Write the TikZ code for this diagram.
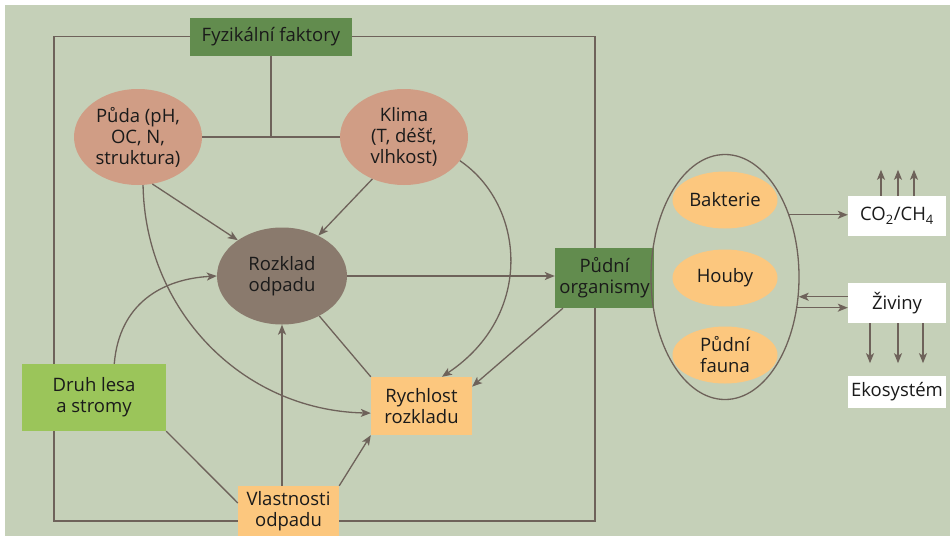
\documentclass[tikz,border=0pt]{standalone}
\usepackage{fontspec}
\setmainfont{Open Sans}
\usetikzlibrary{arrows.meta,shapes.geometric}
\usepackage{xcolor}
\definecolor{PanelGreen}{RGB}{197,208,184}
\definecolor{MossGreen}{RGB}{98,140,78}
\definecolor{LeafGreen}{RGB}{155,197,90}
\definecolor{SoftOrange}{RGB}{252,199,126}
\definecolor{Salmon}{RGB}{208,157,133}
\definecolor{LitterBrown}{RGB}{138,122,109}
\definecolor{LineBrown}{RGB}{110,98,90}
\definecolor{InkBlack}{RGB}{26,26,26}
\tikzset{
  factor/.style={rectangle, fill=MossGreen, inner sep=0pt, align=center},
  condition/.style={ellipse, fill=Salmon, inner sep=0pt, align=center,
    minimum width=128, minimum height=96},
  litter/.style={ellipse, fill=LitterBrown, inner sep=0pt, align=center,
    minimum width=130, minimum height=97},
  forest/.style={rectangle, fill=LeafGreen, inner sep=0pt, align=center,
    minimum width=144, minimum height=67},
  property/.style={rectangle, fill=SoftOrange, inner sep=0pt, align=center,
    minimum width=101},
  organism/.style={ellipse, fill=SoftOrange, inner sep=0pt, align=center,
    minimum width=105, minimum height=57},
  output/.style={rectangle, fill=white, inner sep=0pt, align=center,
    minimum width=98},
  link/.style={line width=1.3pt, LineBrown},
  arrow/.style={-{Stealth[length=10pt,width=8pt,inset=2.5pt]}, line width=1.3pt, LineBrown}
}
\begin{document}
\begin{tikzpicture}[x=1pt,y=-1pt,
  every node/.style={font=\fontsize{18.5}{21}\selectfont, text=InkBlack}]
  \useasboundingbox (0,0) rectangle (950,536);
  \fill[white] (0,0) rectangle (950,536);
  \fill[PanelGreen] (5,5) rectangle (950,536);

  % factors
  \node[factor,minimum width=162,minimum height=38] (fyz) at (271,36.5) {Fyzikální faktory};
  \node[condition] (puda) at (138,137) {Půda (pH,\\OC, N,\\struktura)};
  \node[condition] (klima) at (404,137) {Klima\\(T, déšť,\\vlhkost)};
  \node[litter] (rozklad) at (282,276) {Rozklad\\odpadu};
  \node[forest] (druh) at (94,397.5) {Druh lesa\\a stromy};
  \node[property,minimum height=58] (rychlost) at (421.5,406) {Rychlost\\rozkladu};
  \node[property,minimum height=50] (vlast) at (288.5,511) {Vlastnosti\\odpadu};
  \node[factor,minimum width=99,minimum height=60] (pudni) at (604.5,278) {Půdní\\organismy};

  % soil biota
  \node[ellipse,draw=LineBrown,line width=1.3pt,minimum width=148,minimum height=245] (biota) at (725,277) {};
  \node[organism] (bakt) at (725,200) {Bakterie};
  \node[organism] (houby) at (725,278) {Houby};
  \node[organism] (fauna) at (725,355) {Půdní\\fauna};

  \node[output,minimum height=40] (co2) at (897,216) {CO\textsubscript{2}/CH\textsubscript{4}};
  \node[output,minimum height=40] (ziviny) at (897,303) {Živiny};
  \node[output,minimum height=32] (eko) at (897,392) {Ekosystém};

  % frame
  \coordinate (cbl) at (54,521);
  \coordinate (cbr) at (595,521);
  \draw[link] (fyz.west) -- (fyz.west -| cbl) -- (cbl |- druh.north);
  \draw[link] (cbl |- druh.south) -- (cbl) -- (cbl -| vlast.west);
  \draw[link] (fyz.east) -- (fyz.east -| cbr) -- (cbr |- pudni.north);
  \draw[link] (cbr |- pudni.south) -- (cbr) -- (cbr -| vlast.east);
  \draw[link] (fyz.south) -- (fyz.south |- puda.east);
  \draw[link] (puda.east) -- (klima.west);

  % connectors
  \draw[arrow] (puda.-73) -- (rozklad.141);
  \draw[arrow] (klima.-127) -- (rozklad.48);
  \draw[arrow] (puda.-84) .. controls +(2,124) and +(-130,-3) .. (rychlost.-172);
  \draw[arrow] (klima.-23) .. controls +(65,44) and +(93,-62) .. (rychlost.55);
  \draw[arrow] (rozklad.east) -- (rozklad.east -| pudni.west);
  \draw[arrow] (druh.59) .. controls +(5,-60) and +(-55,3) .. (rozklad.west);
  \draw[link] (druh.south east) -- (vlast.171);
  \draw[arrow] (rozklad.south |- vlast.north) -- (rozklad.south);
  \draw[arrow] (vlast.north east) -- (rychlost.south west);
  \draw[link] (rozklad.-47) -- (rychlost.north west);
  \draw[arrow] (pudni.-144) -- (rychlost.21);

  \draw[arrow] (biota.44) -- (biota.44 -| co2.west);
  \draw[arrow] (ziviny.west |- biota.-15) -- (biota.-15);
  \draw[arrow] (biota.-23) -- (biota.-23 -| ziviny.west);
  \foreach \dx in {-16,1,17}
    \draw[arrow] ([xshift=\dx pt]co2.north) -- ++(0,-26);
  \foreach \dx in {-27,1,26}
    \draw[arrow] ([xshift=\dx pt]ziviny.south) -- ++(0,40);
\end{tikzpicture}
\end{document}
